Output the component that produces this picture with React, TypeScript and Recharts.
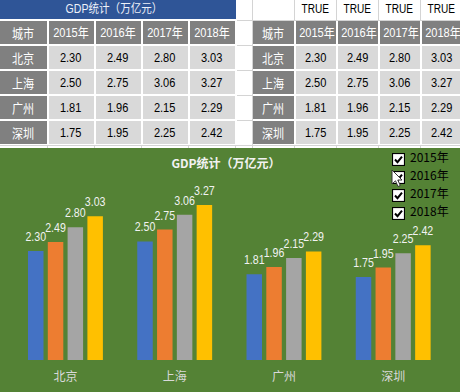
import React from 'react';
import { BarChart, Bar, XAxis, YAxis, LabelList } from 'recharts';

const cities = ['北京', '上海', '广州', '深圳'];
const years = ['2015年', '2016年', '2017年', '2018年'];
const gdp2015 = [2.3, 2.5, 1.81, 1.75];
const gdp2016 = [2.49, 2.75, 1.96, 1.95];
const gdp2017 = [2.8, 3.06, 2.15, 2.25];
const gdp2018 = [3.03, 3.27, 2.29, 2.42];
const yearChecked = [true, true, true, true];
const chartTitle = 'GDP统计（万亿元）';
const headerLabel = '城市';

const seriesValues = [gdp2015, gdp2016, gdp2017, gdp2018];
const seriesKeys = ['y2015', 'y2016', 'y2017', 'y2018'];
const colors = ['#4472C4', '#ED7D31', '#A5A5A5', '#FFC000'];

const data = cities.map((c, i) => {
  const row: any = { city: c };
  seriesKeys.forEach((k, j) => {
    row[k] = seriesValues[j][i];
  });
  return row;
});

const SANS = "'Liberation Sans', 'Noto Sans CJK SC', sans-serif";
const CJK = "'Noto Sans CJK SC', 'Noto Sans', sans-serif";

const rowEdges = [20, 45, 70, 95, 120];
const leftCols = [0, 47.5, 94.5, 141.5, 188.5, 235.5];
const rightCols = [253, 294.5, 336.5, 378.5, 420.5, 462.5];
const gridX = [47, 94, 141, 188, 235, 252, 294, 336, 378, 420];
const gridY = [20, 45, 70, 95, 120, 145];

function Squeezed({ text, scale }: any) {
  return (
    <span style={{ display: 'inline-block', transform: `scaleX(${scale})`, transformOrigin: 'center' }}>{text}</span>
  );
}

function Cell({ left, top, width, height, bg, color, text, font, size, scale }: any) {
  return (
    <div
      style={{
        position: 'absolute',
        left,
        top,
        width,
        height,
        background: bg,
        color,
        fontFamily: font,
        fontSize: size,
        lineHeight: height + 'px',
        textAlign: 'center',
        whiteSpace: 'nowrap',
        overflow: 'visible',
      }}
    >
      <Squeezed text={text} scale={scale} />
    </div>
  );
}

function DataTable({ cols }: { cols: number[] }) {
  const cells: any[] = [];
  for (let r = 0; r < 5; r++) {
    for (let c = 0; c < 5; c++) {
      const left = c === 0 ? cols[0] : cols[c] + 1;
      const width = cols[c + 1] - 1 - left;
      const top = rowEdges[r] + 1;
      let text: string;
      const header = r === 0 || c === 0;
      if (r === 0) text = c === 0 ? headerLabel : years[c - 1];
      else if (c === 0) text = cities[r - 1];
      else text = seriesValues[c - 1][r - 1].toFixed(2);
      cells.push(
        <Cell
          key={r + '-' + c}
          left={left}
          top={top}
          width={width}
          height={23}
          bg={header ? '#808080' : '#D9D9D9'}
          color={header ? '#FFFFFF' : '#000000'}
          font={c === 0 ? CJK : SANS}
          size={c === 0 ? 13 : 13}
          scale={0.85}
          text={text}
        />
      );
    }
  }
  return <>{cells}</>;
}

const CityTick = (props: any) => {
  const { x, y, payload } = props;
  return (
    <text
      x={x}
      y={y + 17}
      dy="0.35em"
      textAnchor="middle"
      fill="#D9D9D9"
      fontSize={12}
      fontFamily={CJK}
    >
      {payload.value}
    </text>
  );
};

const ValueLabel = (props: any) => {
  const { x, y, width, value } = props;
  const cx = Number(x) + Number(width) / 2;
  const by = Number(y) - 10;
  return (
    <text
      transform={`translate(${cx},${by}) scale(0.85,1)`}
      x={0}
      y={0}
      textAnchor="middle"
      fill="#F2F2F2"
      fontSize={12.5}
      fontFamily={SANS}
    >
      {Number(value).toFixed(2)}
    </text>
  );
};

export default function App() {
  const legendTops = [152.7, 170.7, 188.5, 206.7];
  return (
    <div
      style={{
        position: 'absolute',
        left: 0,
        top: 0,
        width: 460,
        height: 392,
        background: '#FFFFFF',
        overflow: 'hidden',
      }}
    >
      {gridX.map((x) => (
        <div key={'gx' + x} style={{ position: 'absolute', left: x, top: 0, width: 1, height: 148, background: '#D4D4D4' }} />
      ))}
      {gridY.map((y) => (
        <div key={'gy' + y} style={{ position: 'absolute', left: 0, top: y, width: 460, height: 1, background: '#D4D4D4' }} />
      ))}
      <div style={{ position: 'absolute', left: 0, top: 19, width: 237, height: 126, background: '#FFFFFF' }} />
      <div style={{ position: 'absolute', left: 253, top: 20.5, width: 210, height: 124.5, background: '#FFFFFF' }} />

      <div
        style={{
          position: 'absolute',
          left: 0,
          top: 0,
          width: 235.5,
          height: 19,
          background: '#2F5597',
          color: '#EDF1F9',
          fontFamily: SANS,
          fontSize: 12,
          lineHeight: '19px',
          textAlign: 'center',
          paddingRight: 8,
          boxSizing: 'border-box',
          whiteSpace: 'nowrap',
        }}
      >
        <Squeezed text={chartTitle} scale={0.88} />
      </div>
      <DataTable cols={leftCols} />

      {yearChecked.map((v, i) => (
        <div
          key={'t' + i}
          style={{
            position: 'absolute',
            left: rightCols[i + 1],
            top: 0,
            width: rightCols[i + 2] - rightCols[i + 1],
            height: 19,
            lineHeight: '19px',
            textAlign: 'center',
            fontFamily: SANS,
            fontSize: 12,
            color: '#000',
            whiteSpace: 'nowrap',
          }}
        >
          <Squeezed text={String(v).toUpperCase()} scale={0.84} />
        </div>
      ))}
      <DataTable cols={rightCols} />

      <div style={{ position: 'absolute', left: 0, top: 148, width: 460, height: 244, background: '#548235' }}>
        <BarChart
          width={460}
          height={244}
          data={data}
          margin={{ top: 46, right: 12, bottom: 0, left: 11 }}
          barSize={15.5}
          barGap={4.3}
        >
          <XAxis
            dataKey="city"
            height={32}
            axisLine={false}
            tickLine={false}
            tickSize={0}
            tickMargin={0}
            tick={<CityTick />}
            interval={0}
          />
          <YAxis hide domain={[0, 3.5]} />
          {seriesKeys.map((k, j) => (
            <Bar key={k} dataKey={k} name={years[j]} fill={colors[j]} isAnimationActive={false}>
              <LabelList dataKey={k} content={<ValueLabel />} />
            </Bar>
          ))}
        </BarChart>
        <div
          style={{
            position: 'absolute',
            left: 0,
            top: 6,
            width: 452,
            height: 18,
            lineHeight: '18px',
            textAlign: 'center',
            color: '#F2F2F2',
            fontFamily: CJK,
            fontWeight: 700,
            fontSize: 12,
          }}
        >
          {chartTitle}
        </div>
      </div>

      {years.map((y, i) => (
        <React.Fragment key={'lg' + y}>
          <svg style={{ position: 'absolute', left: 392, top: legendTops[i] }} width={13} height={13}>
            <rect x={0.5} y={0.5} width={12} height={12} fill="#FFFFFF" stroke="#000" strokeWidth={1.2} />
            {yearChecked[i] && <polyline points="3,6.5 5.5,9.2 10,3.6" fill="none" stroke="#000" strokeWidth={2} />}
          </svg>
          <div
            style={{
              position: 'absolute',
              left: 410,
              top: legendTops[i] - 3,
              height: 14,
              lineHeight: '14px',
              fontFamily: CJK,
              fontSize: 12,
              color: '#000',
              whiteSpace: 'nowrap',
            }}
          >
            {y}
          </div>
        </React.Fragment>
      ))}
      <svg style={{ position: 'absolute', left: 391, top: 169 }} width={14} height={20}>
        <path d="M1,1 L1,15 L4.5,11.8 L7,17.5 L9.3,16.5 L6.8,11 L11,11 Z" fill="#FFFFFF" stroke="#333" strokeWidth={1} />
      </svg>
    </div>
  );
}
